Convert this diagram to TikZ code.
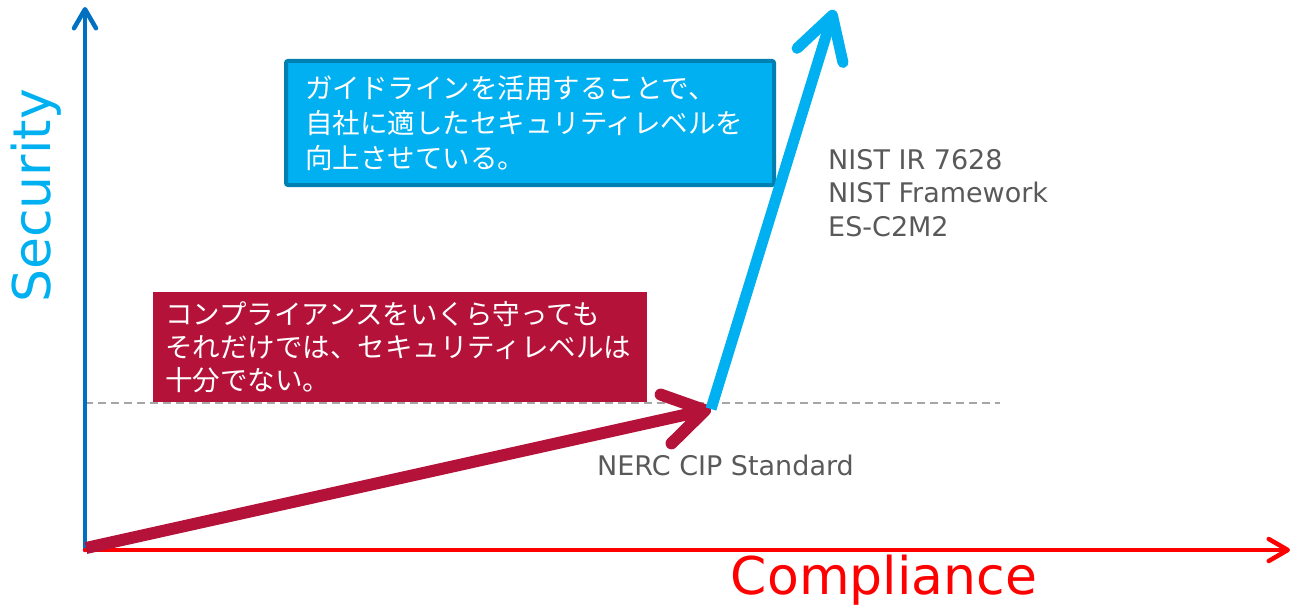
\documentclass[tikz,border=0pt]{standalone}
\usepackage{fontspec}
\setmainfont{DejaVu Sans}
\newfontfamily\jpfont{Noto Sans CJK JP}
\usepackage{xcolor}
\usetikzlibrary{arrows.meta}

\definecolor{axisblue}{HTML}{0070C0}
\definecolor{skyblue}{HTML}{00B0F0}
\definecolor{crimson}{HTML}{B5123A}
\definecolor{boxedge}{HTML}{0080B0}
\definecolor{labelgrey}{HTML}{595959}
\definecolor{dashgrey}{HTML}{A6A6A6}
\definecolor{axisred}{HTML}{FF0000}

\tikzset{
    axislabel/.style={inner sep=0pt, font=\fontsize{52}{60}\selectfont},
    stdlabel/.style={inner sep=0pt, anchor=west, align=left, text=labelgrey, font=\fontsize{27}{33.5}\selectfont},
    notebox/.style={anchor=north west, align=left, text=white, inner ysep=0pt},
    axisline/.style={line width=4.5pt, line cap=round},
    bigarrow/.style={line width=12pt},
}

\begin{document}
\begin{tikzpicture}[x=1pt, y=-1pt]
    \useasboundingbox (0, 0) rectangle (1298, 615);
    \path (85, 550) coordinate (o) (85, 7) coordinate (ytip) (1290, 550) coordinate (xtip);
    \path (85, 403) coordinate (dl) (1000, 403) coordinate (dr);
    \path (86, 548) coordinate (rs) (711, 409) coordinate (knee) (834, 10) coordinate (bt);
    \draw [dashgrey, line width=1.6pt, dash pattern=on 8pt off 5pt] (dl) -- (dr);
    \path (284, 59) node [notebox, fill=skyblue, draw=boxedge, line width=4pt, rounded corners=2pt,
        minimum width=488, minimum height=124, text width=450, inner xsep=19pt,
        font=\jpfont\fontsize{27.5}{35}\selectfont] (good)
        {ガイドラインを活用することで、\\自社に適したセキュリティレベルを\\向上させている。};
    \path (153, 292) node [notebox, fill=crimson, minimum width=494, minimum height=110,
        text width=470, inner xsep=12pt, font=\jpfont\fontsize{27.5}{33}\selectfont] (bad)
        {コンプライアンスをいくら守っても\\それだけでは、セキュリティレベルは\\十分でない。};
    \draw [axisline, axisblue, -{Straight Barb[round, length=19pt, width=22pt]}] (o) -- (ytip);
    \draw [axisline, axisred, -{Straight Barb[round, length=19pt, width=22pt]}] (o) -- (xtip);
    \draw [bigarrow, crimson, -{Straight Barb[round, length=40pt, width=50pt]}] (rs) -- (knee);
    \draw [bigarrow, skyblue, line width=11pt, -{Straight Barb[round, length=42pt, width=48pt]}] (knee) -- (bt);
    \path (36, 196) node [axislabel, text=skyblue, rotate=90] (sec) {Security};
    \path (884, 580) node [axislabel, text=axisred] (comp) {Compliance};
    \path (597, 465) node [stdlabel] (nerc) {NERC CIP Standard};
    \path (828, 193) node [stdlabel] (nist) {NIST IR 7628\\NIST Framework\\ES-C2M2};
\end{tikzpicture}
\end{document}
